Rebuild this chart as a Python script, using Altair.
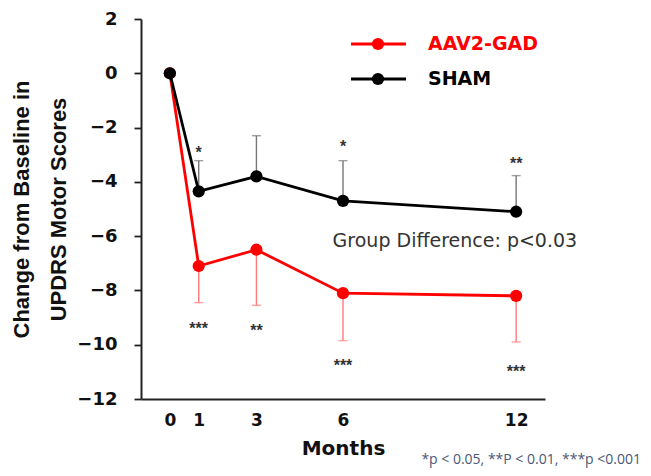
import altair as alt
import pandas as pd

# ---- data ----
months = [0, 1, 3, 6, 12]
series_names = ["AAV2-GAD", "SHAM"]
gad_mean = [0.0, -7.1, -6.5, -8.1, -8.2]
sham_mean = [0.0, -4.35, -3.8, -4.7, -5.1]
gad_err_end = [0.0, -8.45, -8.55, -9.85, -9.9]     # error bars drawn downward
sham_err_end = [0.0, -3.22, -2.3, -3.22, -3.77]    # error bars drawn upward

x_tick_labels = [0, 1, 3, 6, 12]
y_ticks = [-12, -11, -10, -9, -8, -7, -6, -5, -4, -3, -2, -1, 0, 1, 2]

sham_star_months = [1, 6, 12]
sham_star_text = ["*", "*", "**"]
sham_star_y = [-2.78, -2.55, -3.18]
gad_star_months = [1, 3, 6, 12]
gad_star_text = ["***", "**", "***", "***"]
gad_star_y = [-9.28, -9.36, -10.64, -10.86]

group_note = "Group Difference: p<0.03"
group_note_pos = (5.64, -6.19)
footnote = "*p < 0.05, **P < 0.01, ***p <0.001"

line_colors = ["#ff0000", "#000000"]
err_colors = ["#ff7a7a", "#777777"]
means = [gad_mean, sham_mean]
err_ends = [gad_err_end, sham_err_end]

BOLD_W = "DejaVu Sans"

xenc = alt.X(
    "month:Q",
    scale=alt.Scale(domain=[-1, 13], nice=False, zero=False),
    axis=alt.Axis(
        values=x_tick_labels, title="Months", grid=False, ticks=False,
        labelFont=BOLD_W, labelFontWeight="bold", labelFontSize=17, labelColor="#111",
        labelPadding=13, titleFont=BOLD_W, titleFontWeight="bold", titleFontSize=20,
        titleColor="#111", titlePadding=10, domainColor="#222", domainWidth=2.2,
    ),
)
yenc = alt.Y(
    "value:Q",
    scale=alt.Scale(domain=[-12, 2], nice=False, zero=False),
    axis=alt.Axis(
        values=y_ticks, labelExpr="datum.value % 2 == 0 ? datum.label : ''",
        title=["Change from Baseline in", "UPDRS Motor Scores"], grid=False,
        tickSize=7, tickWidth=1.8, tickColor="#222",
        labelFont=BOLD_W, labelFontWeight="bold", labelFontSize=18, labelColor="#111",
        labelPadding=17, titleFont="Liberation Sans", titleFontWeight="bold",
        titleFontSize=22, titleColor="#111", titleLineHeight=37, titlePadding=6,
        domainColor="#222", domainWidth=2,
    ),
)

layers = []
# error bars (under the lines)
for i, name in enumerate(series_names):
    d = pd.DataFrame({"month": months[1:], "value": means[i][1:], "err": err_ends[i][1:]})
    c = alt.Chart(d)
    enc_x = xenc if i == 0 else alt.X("month:Q")
    enc_y = yenc if i == 0 else alt.Y("value:Q")
    layers.append(c.mark_rule(strokeWidth=1.4, color=err_colors[i]).encode(x=enc_x, y=enc_y, y2="err:Q"))
    layers.append(c.mark_tick(orient="horizontal", size=9, thickness=1.4, color=err_colors[i]).encode(
        x="month:Q", y="err:Q"))
# lines and dots: red first, black on top
for i, name in enumerate(series_names):
    d = pd.DataFrame({"month": months, "value": means[i]})
    c = alt.Chart(d)
    layers.append(c.mark_line(strokeWidth=2.8, color=line_colors[i]).encode(x="month:Q", y="value:Q"))
    layers.append(c.mark_point(filled=True, size=150, opacity=1, color=line_colors[i]).encode(
        x="month:Q", y="value:Q"))

stars_df = pd.DataFrame({
    "month": sham_star_months + gad_star_months,
    "y": sham_star_y + gad_star_y,
    "t": sham_star_text + gad_star_text,
})
layers.append(alt.Chart(stars_df).mark_text(
    font="Liberation Sans", fontWeight="bold", fontSize=16, color="#333", baseline="alphabetic", dy=9
).encode(x="month:Q", y="y:Q", text="t:N"))

note_df = pd.DataFrame({"month": [group_note_pos[0]], "y": [group_note_pos[1]], "t": [group_note]})
layers.append(alt.Chart(note_df).mark_text(
    font="DejaVu Sans", fontSize=19, color="#333", align="left", baseline="middle"
).encode(x="month:Q", y="y:Q", text="t:N"))

# manual legend (line + dot + label), pixel placement
for i, name in enumerate(series_names):
    ly = 25 + 35 * i
    one = alt.Chart(pd.DataFrame({"s": [name]}))
    layers.append(one.mark_rule(strokeWidth=2.8, color=line_colors[i]).encode(
        x=alt.value(210), x2=alt.value(265), y=alt.value(ly)))
    layers.append(one.mark_point(filled=True, size=150, opacity=1, color=line_colors[i]).encode(
        x=alt.value(237), y=alt.value(ly)))
    layers.append(one.mark_text(font=BOLD_W, fontWeight="bold", fontSize=19, color=line_colors[i],
                                align="left", baseline="middle").encode(
        x=alt.value(287), y=alt.value(ly), text="s:N"))

layers.append(alt.Chart(pd.DataFrame({"t": [footnote]})).mark_text(
    font="Open Sans", fontSize=14, color="#4a5877", align="right", baseline="middle"
).encode(x=alt.value(500), y=alt.value(441), text="t:N"))

chart = alt.layer(*layers).properties(
    width=404, height=380,
    autosize=alt.AutoSizeParams(type="none"),
    padding={"left": 133, "top": 11, "right": 96, "bottom": 69},
).configure_view(stroke=None)

chart.save("out.html", embed_options={"renderer": "svg", "actions": False})
